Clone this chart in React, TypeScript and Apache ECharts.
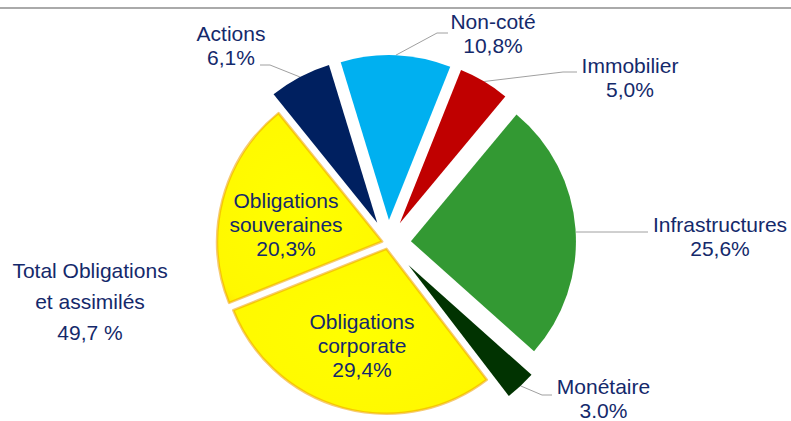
import React, { useEffect, useRef } from 'react';
import * as echarts from 'echarts';

// ---- data ----
const categories = ['Non-coté', 'Immobilier', 'Infrastructures', 'Monétaire', 'Obligations corporate', 'Obligations souveraines', 'Actions'];
const labelNames = ['Non-coté', 'Immobilier', 'Infrastructures', 'Monétaire', 'Obligations\ncorporate', 'Obligations\nsouveraines', 'Actions'];
const values = [10.8, 5.0, 25.6, 3.0, 29.4, 20.3, 6.1];
const valueLabels = ['10,8%', '5,0%', '25,6%', '3.0%', '29,4%', '20,3%', '6,1%'];
const totalLines = ['Total Obligations', 'et assimilés', '49,7 %'];

// ---- styles / layout ----
const colors = ['#00B0F0', '#C00000', '#339933', '#013301', 'yellow', 'yellow', '#002060'];
const explode = [23, 23, 23, 30, 6, 6, 23];
const inside = [false, false, false, false, true, true, false];
const labelPos: number[][] = [[493, 33.5], [630, 77.5], [720, 236.5], [603.5, 398], [362, 345], [286, 224.5], [231, 45]];
const lineEnds: (number[] | null)[] = [[448, 33], [577, 72], [648, 232], [552, 395], null, null, [260, 65]];
const kneeDx = [-11, -14, -12, -10, 0, 0, 10];
const horizontalLine = [false, false, true, false, false, false, false];
const TEXT = '#14296B';
const FONT = 'Liberation Sans, Arial, sans-serif';

export default function App() {
  const ref = useRef<HTMLDivElement>(null);
  useEffect(() => {
    document.body.style.margin = '0';
    const chart = echarts.init(ref.current!, null, { renderer: 'svg' });
    const total = values.reduce((a, b) => a + b, 0);
    const START = 107;
    const CX = 388, CY = 243, R = 165;
    let cum = 0;
    const yellowFill = () =>
      new echarts.graphic.RadialGradient(0.5, 0.5, 0.75, [
        { offset: 0, color: '#FFFF00' },
        { offset: 0.8, color: '#FFF800' },
        { offset: 0.95, color: '#FCE400' },
        { offset: 1, color: '#F5C800' },
      ]);
    const series = values.map((v, i) => {
      const midDeg = START - ((cum + v / 2) / total) * 360;
      cum += v;
      const a = (midDeg * Math.PI) / 180;
      const cx = CX + Math.cos(a) * explode[i];
      const cy = CY - Math.sin(a) * explode[i];
      const isYellow = colors[i] === 'yellow';
      return {
        type: 'pie',
        name: categories[i],
        startAngle: START,
        clockwise: true,
        center: [cx, cy],
        radius: R,
        avoidLabelOverlap: false,
        silent: true,
        emphasis: { disabled: true },
        data: values.map((val, j) => ({
          name: categories[j],
          value: val,
          itemStyle:
            j === i
              ? isYellow
                ? { color: yellowFill(), borderColor: 'rgba(238,160,0,0.55)', borderWidth: 2.5 }
                : { color: colors[j], borderWidth: 0 }
              : { color: 'rgba(0,0,0,0)', borderWidth: 0 },
          label:
            j === i
              ? {
                  show: true,
                  position: inside[j] ? 'inside' : 'outside',
                  formatter: labelNames[j] + '\n' + valueLabels[j],
                  color: TEXT,
                  fontSize: 21,
                  lineHeight: 24,
                  fontFamily: FONT,
                  align: 'center',
                }
              : { show: false },
          labelLine: {
            show: j === i && !inside[j],
            lineStyle: { color: '#A0A0A0', width: 1 },
          },
        })),
        labelLayout: (p: any) => {
          if (p.dataIndex !== i) return {};
          const out: any = {
            x: labelPos[i][0],
            y: labelPos[i][1],
            align: 'center',
            verticalAlign: 'middle',
          };
          const end = lineEnds[i];
          if (end) {
            let start = p.labelLinePoints && p.labelLinePoints[0] ? p.labelLinePoints[0] : [cx, cy];
            if (horizontalLine[i]) {
              const ddy = end[1] - cy;
              start = [cx + Math.sqrt(Math.max(0, R * R - ddy * ddy)), end[1]];
            }
            out.labelLinePoints = [start, [end[0] + kneeDx[i], end[1]], end];
          }
          return out;
        },
      };
    });

    chart.setOption({
      animation: false,
      backgroundColor: '#ffffff',
      graphic: [
        {
          type: 'line',
          shape: { x1: 0, y1: 8, x2: 791, y2: 8 },
          style: { stroke: '#AAAAAA', lineWidth: 2 },
        },
        {
          type: 'text',
          x: 90,
          y: 301.5,
          style: {
            text: totalLines.join('\n'),
            font: '21px ' + FONT,
            fill: TEXT,
            align: 'center',
            verticalAlign: 'middle',
            lineHeight: 31,
          },
        },
      ],
      series,
    });
    return () => chart.dispose();
  }, []);
  return <div ref={ref} style={{ width: 791, height: 421 }} />;
}
